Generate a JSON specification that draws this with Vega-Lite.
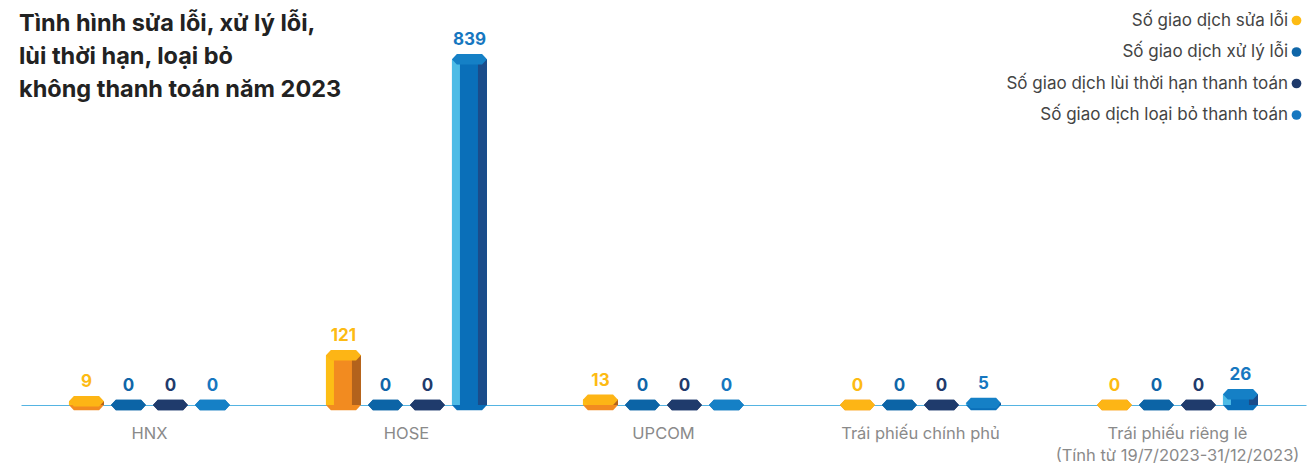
{
  "$schema": "https://vega.github.io/schema/vega-lite/v6.json",
  "width": 1285,
  "height": 405,
  "autosize": {"type": "none"},
  "padding": {"left": 21, "top": 0, "right": 4, "bottom": 62},
  "background": "white",
  "config": {"view": {"stroke": null}, "font": "Inter"},
  "title": {
    "text": ["Tình hình sửa lỗi, xử lý lỗi,", "lùi thời hạn, loại bỏ", "không thanh toán năm 2023"],
    "orient": "top",
    "anchor": "start",
    "frame": "group",
    "offset": -101,
    "dx": -2,
    "baseline": "top",
    "fontSize": 23.5,
    "fontWeight": "bold",
    "color": "#222222",
    "lineHeight": 33,
    "font": "Inter"
  },
  "data": {
    "values": [
      {"cat": "HNX", "series": "Số giao dịch sửa lỗi", "value": 9},
      {"cat": "HNX", "series": "Số giao dịch xử lý lỗi", "value": 0},
      {"cat": "HNX", "series": "Số giao dịch lùi thời hạn thanh toán", "value": 0},
      {"cat": "HNX", "series": "Số giao dịch loại bỏ thanh toán", "value": 0},
      {"cat": "HOSE", "series": "Số giao dịch sửa lỗi", "value": 121},
      {"cat": "HOSE", "series": "Số giao dịch xử lý lỗi", "value": 0},
      {"cat": "HOSE", "series": "Số giao dịch lùi thời hạn thanh toán", "value": 0},
      {"cat": "HOSE", "series": "Số giao dịch loại bỏ thanh toán", "value": 839},
      {"cat": "UPCOM", "series": "Số giao dịch sửa lỗi", "value": 13},
      {"cat": "UPCOM", "series": "Số giao dịch xử lý lỗi", "value": 0},
      {"cat": "UPCOM", "series": "Số giao dịch lùi thời hạn thanh toán", "value": 0},
      {"cat": "UPCOM", "series": "Số giao dịch loại bỏ thanh toán", "value": 0},
      {"cat": "Trái phiếu chính phủ", "series": "Số giao dịch sửa lỗi", "value": 0},
      {"cat": "Trái phiếu chính phủ", "series": "Số giao dịch xử lý lỗi", "value": 0},
      {"cat": "Trái phiếu chính phủ", "series": "Số giao dịch lùi thời hạn thanh toán", "value": 0},
      {"cat": "Trái phiếu chính phủ", "series": "Số giao dịch loại bỏ thanh toán", "value": 5},
      {"cat": "Trái phiếu riêng lẻ|(Tính từ 19/7/2023-31/12/2023)", "series": "Số giao dịch sửa lỗi", "value": 0},
      {"cat": "Trái phiếu riêng lẻ|(Tính từ 19/7/2023-31/12/2023)", "series": "Số giao dịch xử lý lỗi", "value": 0},
      {"cat": "Trái phiếu riêng lẻ|(Tính từ 19/7/2023-31/12/2023)", "series": "Số giao dịch lùi thời hạn thanh toán", "value": 0},
      {"cat": "Trái phiếu riêng lẻ|(Tính từ 19/7/2023-31/12/2023)", "series": "Số giao dịch loại bỏ thanh toán", "value": 26}
    ]
  },
  "encoding": {
    "x": {
      "field": "cat",
      "type": "nominal",
      "sort": null,
      "scale": {"paddingInner": 0.346, "paddingOuter": 0.173},
      "axis": {
        "title": null,
        "domainColor": "#55B4E2",
        "domainWidth": 1,
        "ticks": false,
        "grid": false,
        "labelAngle": 0,
        "labelFont": "Inter",
        "labelFontSize": 16.5,
        "labelColor": "#8A8A8A",
        "labelPadding": 20,
        "labelLimit": 400,
        "labelLineHeight": 22,
        "labelExpr": "split(datum.label, '|')",
        "zindex": 0
      }
    },
    "xOffset": {
      "field": "series",
      "type": "nominal",
      "scale": {
        "type": "band",
        "domain": ["Số giao dịch sửa lỗi", "Số giao dịch xử lý lỗi", "Số giao dịch lùi thời hạn thanh toán", "Số giao dịch loại bỏ thanh toán"],
        "range": [0, 168],
        "paddingInner": 0,
        "paddingOuter": 0
      }
    }
  },
  "layer": [
    {
      "mark": {"type": "point", "shape": "M -1 0 L -0.72 -0.3 L 0.72 -0.3 L 1 0 L 0.72 0.3 L -0.72 0.3 Z", "size": 1225, "filled": true, "opacity": 1, "strokeWidth": 0},
      "encoding": {
        "y": {"datum": 0, "type": "quantitative", "scale": {"domain": [0, 983], "nice": false}, "axis": null},
        "color": {"field": "series", "type": "nominal", "legend": null,
          "scale": {"domain": ["Số giao dịch sửa lỗi", "Số giao dịch xử lý lỗi", "Số giao dịch lùi thời hạn thanh toán", "Số giao dịch loại bỏ thanh toán"], "range": ["#F28B20", "#0C64A6", "#1F3B6C", "#0A6FB9"]}}
      }
    },
    {
      "mark": {"type": "bar", "width": 35},
      "encoding": {
        "y": {"field": "value", "type": "quantitative", "scale": {"domain": [0, 983], "nice": false}, "axis": null},
        "color": {"field": "series", "type": "nominal", "legend": null,
          "scale": {"domain": ["Số giao dịch sửa lỗi", "Số giao dịch xử lý lỗi", "Số giao dịch lùi thời hạn thanh toán", "Số giao dịch loại bỏ thanh toán"], "range": ["#F28B20", "#0C64A6", "#1F3B6C", "#0A6FB9"]}}
      }
    },
    {
      "mark": {"type": "bar", "width": 8},
      "encoding": {
        "xOffset": {
          "field": "series",
          "type": "nominal",
          "scale": {
            "type": "band",
            "domain": ["Số giao dịch sửa lỗi", "Số giao dịch xử lý lỗi", "Số giao dịch lùi thời hạn thanh toán", "Số giao dịch loại bỏ thanh toán"],
            "range": [-13.5, 154.5],
            "paddingInner": 0,
            "paddingOuter": 0
          }
        },
        "y": {"field": "value", "type": "quantitative", "scale": {"domain": [0, 983], "nice": false}, "axis": null},
        "color": {"field": "series", "type": "nominal", "legend": null,
          "scale": {"domain": ["Số giao dịch sửa lỗi", "Số giao dịch xử lý lỗi", "Số giao dịch lùi thời hạn thanh toán", "Số giao dịch loại bỏ thanh toán"], "range": ["#FDBE15", "#2A85C8", "#2E5290", "#4DBBE6"]}}
      }
    },
    {
      "mark": {"type": "bar", "width": 9},
      "encoding": {
        "xOffset": {
          "field": "series",
          "type": "nominal",
          "scale": {
            "type": "band",
            "domain": ["Số giao dịch sửa lỗi", "Số giao dịch xử lý lỗi", "Số giao dịch lùi thời hạn thanh toán", "Số giao dịch loại bỏ thanh toán"],
            "range": [13, 181],
            "paddingInner": 0,
            "paddingOuter": 0
          }
        },
        "y": {"field": "value", "type": "quantitative", "scale": {"domain": [0, 983], "nice": false}, "axis": null},
        "color": {"field": "series", "type": "nominal", "legend": null,
          "scale": {"domain": ["Số giao dịch sửa lỗi", "Số giao dịch xử lý lỗi", "Số giao dịch lùi thời hạn thanh toán", "Số giao dịch loại bỏ thanh toán"], "range": ["#B3621C", "#0A4C82", "#162C52", "#1B4C8A"]}}
      }
    },
    {
      "mark": {"type": "point", "shape": "M -1 0 L -0.72 -0.3 L 0.72 -0.3 L 1 0 L 0.72 0.3 L -0.72 0.3 Z", "size": 1225, "filled": true, "opacity": 1, "strokeWidth": 0},
      "encoding": {
        "y": {"field": "value", "type": "quantitative", "scale": {"domain": [0, 983], "nice": false}, "axis": null},
        "color": {"field": "series", "type": "nominal", "legend": null,
          "scale": {"domain": ["Số giao dịch sửa lỗi", "Số giao dịch xử lý lỗi", "Số giao dịch lùi thời hạn thanh toán", "Số giao dịch loại bỏ thanh toán"], "range": ["#FDB515", "#0C64A6", "#1F3B6C", "#1580C6"]}}
      }
    },
    {
      "mark": {"type": "text", "dy": -14, "baseline": "alphabetic", "fontSize": 17, "fontWeight": "bold", "font": "Inter"},
      "encoding": {
        "y": {"field": "value", "type": "quantitative", "scale": {"domain": [0, 983], "nice": false}, "axis": null},
        "text": {"field": "value", "type": "quantitative"},
        "color": {"field": "series", "type": "nominal",
          "scale": {"domain": ["Số giao dịch sửa lỗi", "Số giao dịch xử lý lỗi", "Số giao dịch lùi thời hạn thanh toán", "Số giao dịch loại bỏ thanh toán"], "range": ["#FDBB13", "#0F66A8", "#1F3B6C", "#1677C0"]},
          "legend": {
            "title": null,
            "orient": "none",
            "legendX": 1267,
            "legendY": 12,
            "padding": 0,
            "symbolType": "circle",
            "symbolSize": 95,
            "symbolStrokeWidth": 0,
            "symbolOpacity": 1,
            "labelFont": "Inter",
            "labelFontSize": 17,
            "labelColor": "#444444",
            "labelAlign": "right",
            "labelOffset": -17,
            "labelLimit": 400,
            "rowPadding": 13.5
          }
        }
      }
    }
  ],
  "resolve": {"scale": {"color": "independent", "xOffset": "independent"}}
}
